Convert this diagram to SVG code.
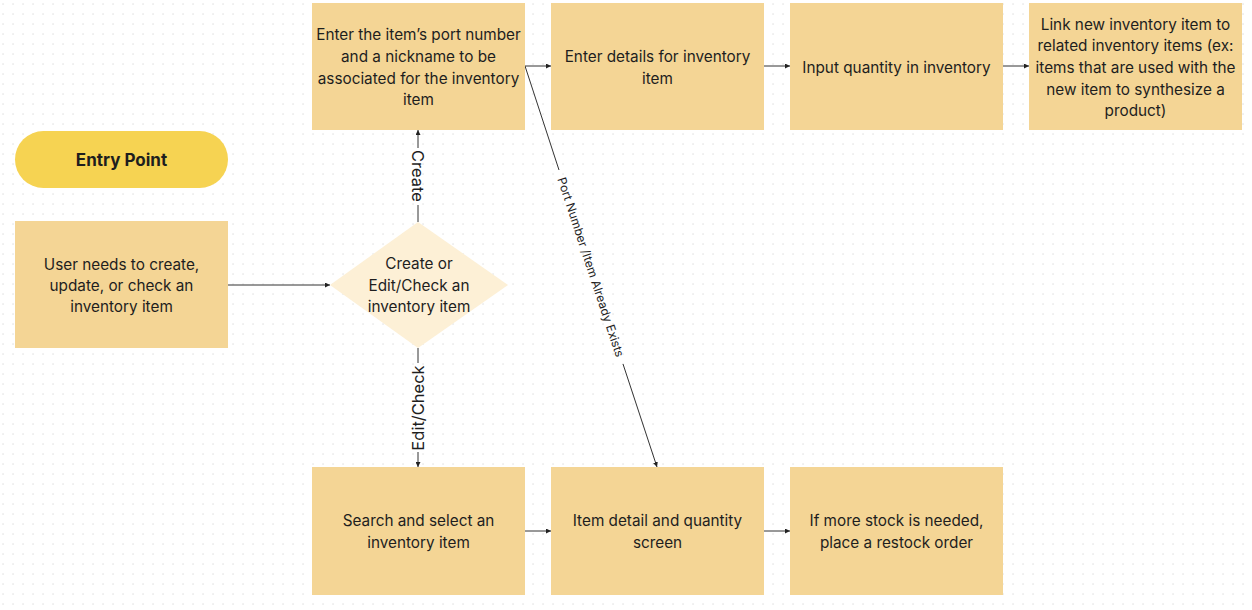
<svg xmlns="http://www.w3.org/2000/svg" width="1252" height="610" viewBox="0 0 1252 610">
<defs>
<pattern id="dots" x="0" y="0" width="10" height="10" patternUnits="userSpaceOnUse">
<rect x="2.4" y="3.4" width="1.3" height="1.3" fill="#dedede"/>
</pattern>
<marker id="arr" viewBox="0 0 10 10" refX="10" refY="5" markerWidth="5" markerHeight="5" orient="auto" markerUnits="userSpaceOnUse">
<path d="M0,0 L10,5 L0,10 z" fill="#222"/>
</marker>
<style>
.box{fill:#f4d595}
.dia{fill:#fdf0d6}
.pill{fill:#f6d352}
.t{font-family:Inter,"Liberation Sans",sans-serif;font-size:15.3px;fill:#1e1e1e;text-anchor:middle}
.b{font-weight:bold;font-size:17px}
.lbl{font-family:Inter,"Liberation Sans",sans-serif;font-size:16.5px;fill:#1e1e1e;text-anchor:middle;dominant-baseline:central}
.lbls{font-size:12px}
.c{stroke:#333;stroke-width:1;fill:none}
</style>
</defs>
<rect width="1252" height="610" fill="#ffffff"/>
<rect width="1252" height="610" fill="url(#dots)"/>

<g id="connectors">
<line class="c" x1="228" y1="285" x2="330" y2="285" marker-end="url(#arr)"/>
<line class="c" x1="418" y1="222" x2="418" y2="205"/>
<line class="c" x1="418" y1="148" x2="418" y2="130" marker-end="url(#arr)"/>
<line class="c" x1="418" y1="348" x2="418" y2="363"/>
<line class="c" x1="418" y1="452" x2="418" y2="467" marker-end="url(#arr)"/>
<line class="c" x1="525" y1="66" x2="551" y2="66" marker-end="url(#arr)"/>
<line class="c" x1="764" y1="66" x2="790" y2="66" marker-end="url(#arr)"/>
<line class="c" x1="1003" y1="66" x2="1029" y2="66" marker-end="url(#arr)"/>
<line class="c" x1="525" y1="531" x2="551" y2="531" marker-end="url(#arr)"/>
<line class="c" x1="764" y1="531" x2="790" y2="531" marker-end="url(#arr)"/>
<line class="c" x1="525" y1="66" x2="559" y2="170"/>
<line class="c" x1="623" y1="364" x2="657" y2="467" marker-end="url(#arr)"/>
<text class="lbl" transform="translate(418,176) rotate(90)">Create</text>
<text class="lbl" transform="translate(418,408) rotate(-90)">Edit/Check</text>
<text class="lbl lbls" transform="translate(591,267) rotate(71.8)">Port Number /Item Already Exists</text>
</g>

<g id="entry">
<rect class="pill" x="15" y="131" width="213" height="57" rx="28.5"/>
<text class="t b" x="121.5" y="166">Entry Point</text>
</g>

<g id="start">
<rect class="box" x="15" y="221" width="213" height="127"/>
<text class="t" x="121.5" y="270">User needs to create,</text>
<text class="t" x="121.5" y="291">update, or check an</text>
<text class="t" x="121.5" y="312">inventory item</text>
</g>

<g id="decision">
<polygon class="dia" points="418,222 508,285 418,348 330,285"/>
<text class="t" x="419" y="269">Create or</text>
<text class="t" x="419" y="291">Edit/Check an</text>
<text class="t" x="419" y="312">inventory item</text>
</g>

<g id="enter-port">
<rect class="box" x="312" y="3" width="213" height="127"/>
<text class="t" x="418.5" y="40">Enter the item’s port number</text>
<text class="t" x="418.5" y="62">and a nickname to be</text>
<text class="t" x="418.5" y="84">associated for the inventory</text>
<text class="t" x="418.5" y="105">item</text>
</g>

<g id="enter-details">
<rect class="box" x="551" y="3" width="213" height="127"/>
<text class="t" x="657.5" y="62">Enter details for inventory</text>
<text class="t" x="657.5" y="84">item</text>
</g>

<g id="input-qty">
<rect class="box" x="790" y="3" width="213" height="127"/>
<text class="t" x="896.5" y="73">Input quantity in inventory</text>
</g>

<g id="link-items">
<rect class="box" x="1029" y="3" width="213" height="127"/>
<text class="t" x="1135.5" y="30">Link new inventory item to</text>
<text class="t" x="1135.5" y="51">related inventory items (ex:</text>
<text class="t" x="1135.5" y="73">items that are used with the</text>
<text class="t" x="1135.5" y="95">new item to synthesize a</text>
<text class="t" x="1135.5" y="116">product)</text>
</g>

<g id="search">
<rect class="box" x="312" y="467" width="213" height="128"/>
<text class="t" x="418.5" y="526">Search and select an</text>
<text class="t" x="418.5" y="548">inventory item</text>
</g>

<g id="detail-screen">
<rect class="box" x="551" y="467" width="213" height="128"/>
<text class="t" x="657.5" y="526">Item detail and quantity</text>
<text class="t" x="657.5" y="548">screen</text>
</g>

<g id="restock">
<rect class="box" x="790" y="467" width="213" height="128"/>
<text class="t" x="896.5" y="526">If more stock is needed,</text>
<text class="t" x="896.5" y="548">place a restock order</text>
</g>
</svg>
